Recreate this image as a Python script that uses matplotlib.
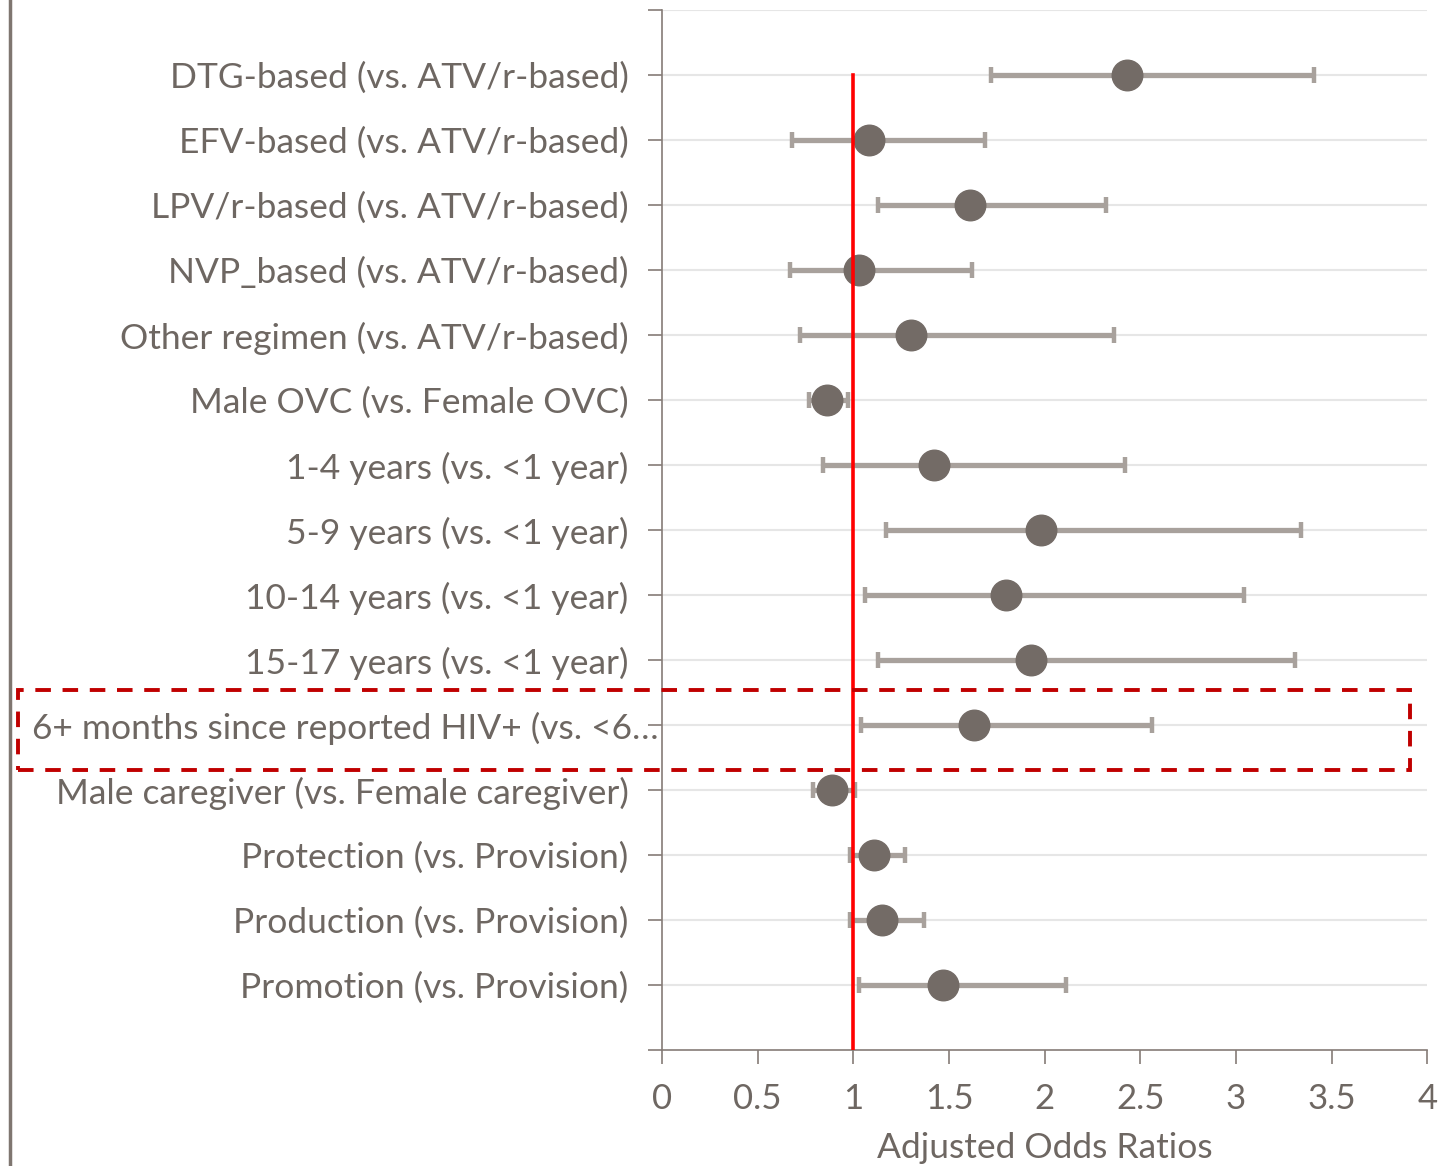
import matplotlib.pyplot as plt
import matplotlib.transforms as mtransforms
from matplotlib.patches import Rectangle

labels = [
    "DTG-based (vs. ATV/r-based)",
    "EFV-based (vs. ATV/r-based)",
    "LPV/r-based (vs. ATV/r-based)",
    "NVP_based (vs. ATV/r-based)",
    "Other regimen (vs. ATV/r-based)",
    "Male OVC (vs. Female OVC)",
    "1-4 years (vs. <1 year)",
    "5-9 years (vs. <1 year)",
    "10-14 years (vs. <1 year)",
    "15-17 years (vs. <1 year)",
    "6+ months since reported HIV+ (vs. <6\u2026",
    "Male caregiver (vs. Female caregiver)",
    "Protection (vs. Provision)",
    "Production (vs. Provision)",
    "Promotion (vs. Provision)",
]
aor = [2.43, 1.08, 1.61, 1.03, 1.30, 0.86, 1.42, 1.98, 1.80, 1.93, 1.63, 0.89, 1.11, 1.15, 1.47]
ci_low = [1.72, 0.68, 1.13, 0.67, 0.72, 0.77, 0.84, 1.17, 1.06, 1.13, 1.04, 0.79, 0.98, 0.98, 1.03]
ci_high = [3.41, 1.69, 2.32, 1.62, 2.36, 0.97, 2.42, 3.34, 3.04, 3.31, 2.56, 1.01, 1.27, 1.37, 2.11]
xticks = [0, 0.5, 1, 1.5, 2, 2.5, 3, 3.5, 4]
xtick_labels = ["0", "0.5", "1", "1.5", "2", "2.5", "3", "3.5", "4"]

text_c = "#6E6762"
axis_c = "#857C77"
dot_c = "#736B66"
bar_c = "#A8A19C"

plt.rcParams['font.family'] = ['Lato', 'DejaVu Sans']

fig = plt.figure(figsize=(14.55, 11.66), dpi=100)
ax = fig.add_axes([0.455, 0.0995, 0.526, 0.892])

y = list(range(len(labels)))
err = [[a - l for a, l in zip(aor, ci_low)], [h - a for a, h in zip(aor, ci_high)]]

for yy in range(-1, len(labels)):
    ax.axhline(yy, color="#E6E6E6", lw=1.5, zorder=0)

ax.errorbar(aor, y, xerr=err, fmt='none', ecolor=bar_c, elinewidth=3.8,
            capsize=5.5, capthick=3.2, zorder=2)
ax.plot(aor, y, 'o', color=dot_c, markersize=22, zorder=3)
ax.plot([1, 1], [0, len(labels)], color="red", lw=2.6, zorder=4)

ax.set_xlim(0, 4)
ax.set_ylim(len(labels), -1)
ax.set_yticks(range(-1, len(labels) + 1))
ax.set_yticklabels([""] + labels + [""], fontsize=25.5, color=text_c)
ax.set_xticks(xticks)
ax.set_xticklabels(xtick_labels, fontsize=25, color=text_c)
ax.set_xlabel("Adjusted Odds Ratios", fontsize=25.5, color=text_c, labelpad=12)
ax.tick_params(axis='y', length=10, width=1.2, color=axis_c, pad=14)
ax.tick_params(axis='x', length=10, width=1.2, color=axis_c, pad=14)
for s in ['top', 'right']:
    ax.spines[s].set_visible(False)
for s in ['left', 'bottom']:
    ax.spines[s].set_color(axis_c)
    ax.spines[s].set_linewidth(1.2)

# the truncated label sits closer to the axis
lbl = ax.get_yticklabels()[11]
lbl.set_transform(lbl.get_transform() + mtransforms.ScaledTranslation(0.30, 0, fig.dpi_scale_trans))

# left border line
fig.add_artist(plt.Line2D([10 / 1455, 10 / 1455], [0, 1], color="#7F7670", lw=2.5))

# dashed highlight box
fig.add_artist(Rectangle((18 / 1455, 1 - 770 / 1166), (1410 - 18) / 1455, 80 / 1166,
                         fill=False, edgecolor="#C00000", lw=2.8, linestyle=(0, (4, 3))))

fig.savefig("out.png", dpi=100)
